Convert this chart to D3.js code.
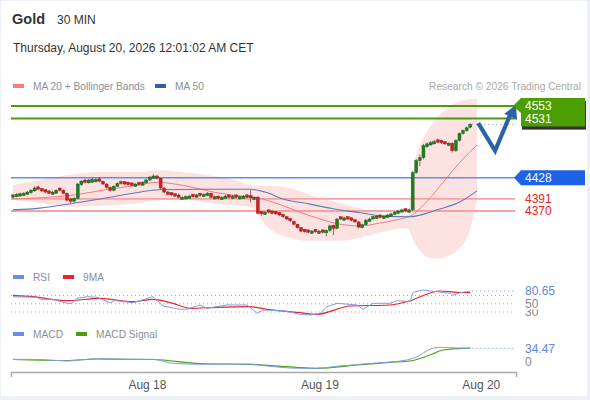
<!DOCTYPE html>
<html><head><meta charset="utf-8">
<script src="https://cdn.jsdelivr.net/npm/d3@7"></script>
<style>
html,body{margin:0;padding:0;background:#edf1f5;}
svg{display:block;font-family:"Liberation Sans",Arial,sans-serif;}
</style></head>
<body>
<svg id="chart" width="590" height="400"></svg>
<script>
// ---------- DATA ----------
const title = "Gold";
const period = "30 MIN";
const dateText = "Thursday, August 20, 2026 12:01:02 AM CET";
const credit = "Research \u00a9 2026 Trading Central";

const opens = [
4394,4395,4396,4397,4399,4402,4405,4412,4409,4407,
4405,4399,4401,4410,4406,4401,4391,4387,4392,4416,
4424,4419,4420,4421,4426,4422,4417,4411,4406,4413,
4421,4421,4420,4419,4413,4420,4415,4419,4424,4427,
4431,4427,4410,4403,4402,4400,4398,4390,4391,4392,
4399,4394,4401,4395,4397,4401,4391,4396,4390,4392,
4398,4392,4398,4391,4392,4398,4397,4390,4394,4369,
4364,4372,4370,4369,4367,4364,4360,4357,4352,4347,
4341,4338,4337,4331,4338,4331,4337,4332,4336,4345,
4340,4360,4354,4360,4358,4355,4351,4341,4346,4352,
4356,4357,4363,4357,4359,4361,4364,4366,4368,4374,
4368,4372,4437,4458,4463,4482,4485,4487,4494,4493,
4491,4484,4488,4475,4493,4505,4510,4516];
const highs = [
4400,4401,4402,4403,4405,4408,4413,4414,4410,4408,
4406,4405,4408,4411,4408,4402,4393,4394,4419,4424,
4426,4426,4428,4427,4428,4423,4418,4413,4415,4420,
4423,4422,4421,4420,4419,4421,4422,4426,4431,4434,
4433,4428,4412,4405,4403,4401,4400,4396,4397,4398,
4400,4400,4402,4401,4403,4402,4397,4397,4396,4398,
4399,4398,4399,4397,4398,4400,4406,4396,4396,4370,
4370,4373,4371,4370,4368,4365,4361,4358,4353,4348,
4342,4339,4338,4337,4339,4337,4338,4338,4346,4346,
4358,4361,4360,4361,4359,4356,4352,4348,4356,4358,
4362,4363,4364,4363,4365,4367,4370,4372,4374,4375,
4374,4440,4461,4468,4487,4490,4492,4494,4496,4494,
4492,4490,4490,4495,4507,4512,4517,4523];
const lows = [
4392,4394,4395,4396,4398,4400,4404,4406,4403,4401,
4399,4398,4400,4404,4399,4386,4383,4385,4390,4414,
4418,4418,4419,4420,4420,4415,4409,4404,4404,4412,
4416,4415,4414,4413,4412,4414,4414,4418,4422,4426,
4425,4408,4401,4397,4396,4394,4392,4389,4390,4391,
4393,4393,4395,4394,4396,4392,4390,4390,4389,4391,
4392,4391,4392,4390,4391,4392,4385,4389,4364,4362,
4363,4366,4364,4363,4361,4358,4354,4351,4345,4339,
4333,4332,4331,4330,4332,4330,4331,4326,4334,4328,
4338,4354,4353,4354,4352,4349,4340,4340,4345,4351,
4355,4356,4357,4356,4358,4360,4363,4365,4367,4368,
4367,4370,4435,4448,4460,4480,4484,4486,4488,4487,
4485,4483,4472,4473,4491,4503,4508,4514];
const closes = [
4398,4399,4400,4401,4403,4406,4410,4408,4405,4403,
4401,4403,4406,4406,4401,4389,4387,4392,4417,4422,
4420,4424,4425,4425,4422,4417,4411,4406,4413,4418,
4418,4417,4416,4415,4417,4416,4420,4424,4429,4431,
4427,4410,4403,4399,4398,4396,4394,4394,4395,4396,
4395,4398,4397,4399,4401,4394,4395,4392,4394,4396,
4394,4396,4394,4395,4396,4394,4393,4394,4366,4365,
4368,4368,4366,4365,4363,4360,4356,4353,4347,4341,
4335,4334,4333,4335,4334,4335,4333,4336,4344,4340,
4356,4356,4358,4356,4354,4351,4342,4346,4354,4356,
4360,4361,4359,4361,4363,4365,4368,4370,4372,4370,
4372,4437,4458,4463,4484,4487,4489,4491,4490,4489,
4487,4488,4475,4493,4505,4510,4515,4521];

// Bollinger band (position index, upper, lower)
const bandIdx   = [0,7.5,15.8,24.2,35.3,40.8,47,54.7,61.7,65.8,67.5,70,76.9,82.5,90.8,99.2,106,109.5,110.5,111.7,113.1,115.3,117.5,120,123.6,126.9,128.9];
const bandUpper = [4415,4424,4433,4438,4438,4441,4438,4432,4424,4415,4414,4414,4410,4398,4384,4370,4363,4364,4400,4460,4485,4511,4530,4546,4560,4565,4566];
const bandLower = [4389,4384,4377,4379,4384,4389,4389,4384,4380,4378,4372,4346,4323,4318,4318,4328,4338,4340,4330,4312,4300,4289,4287,4290,4302,4337,4390];

const ma20Idx = [0,7.5,17.2,25.6,34.7,40,47.8,55.6,63.1,67.8,74.2,79.7,85.3,90.8,96.4,101.9,107.5,110.3,115.3,120,124.7,128.9];
const ma20Val = [4391,4393,4398,4407,4415,4420,4414,4403,4396,4393,4381,4368,4356,4347,4344,4349,4356,4361,4389,4424,4459,4485];
const ma50Idx = [0,7.5,17.2,24.2,32.5,40.8,51.9,65.8,70,75,82.5,88.9,96.4,102.8,110.3,114.4,117.8,124.2,128.9];
const ma50Val = [4372,4375,4384,4391,4400,4407,4408,4408,4403,4391,4382,4374,4367,4361,4360,4365,4372,4386,4405];

const resistances = [4553, 4531];
const pivot = 4428;
const supports = [4391, 4370];
// forecast arrow (position index, price)
const arrowIdx = [129.2, 133.9, 138.3, 139.7];
const arrowVal = [4523, 4475, 4541, 4555];

const rsiIdx = [0,6.7,7.5,11.1,15,16.4,17.8,20.6,23.3,26.9,28.3,33.3,38.9,41.7,46.4,48.3,51.9,53.9,59.4,65,67.8,69.4,75,79.7,82.5,85.3,87.2,90,95.6,97.2,100,104.7,106.7,110.3,111.1,113.9,117.8,121.4,122.2,124.2,127];
const rsiVal = [67.1,65.6,60.8,60.8,51.1,51.1,63.2,67.1,65.6,52.5,57.4,52.5,67.1,44.5,36.5,36.5,47,39,47,47,26.8,34.8,33.2,24.4,22.7,26.8,42.8,51.1,47,36.5,51.1,51.1,57.4,55,77.8,83.3,79.2,75.3,70.5,76.8,80.65];
const rsiMaIdx = [0,5.6,15,24.2,33.3,38.9,44.4,49.2,56.7,65.8,70.6,79.7,84.4,93.6,104.7,109.4,118.6,123.3,127];
const rsiMaVal = [70.5,67.1,57.4,63.2,55,60.8,51.1,39,41.4,42.8,36.5,28.3,24.4,44.5,47,55,80.9,77.8,76.8];
const rsiLevels = [30, 50, 70];
const rsiLabels = [30, 50];

const macdIdx = [0,7.5,15,23.3,32.5,38.9,44.4,51.9,65.8,70.6,79.7,84.4,90.8,100,109.4,112.2,115.8,118.6,123.3,127];
const macdVal = [5.7,5.2,1.3,7.3,5.7,5.7,-4.7,-7.3,-6.5,-11.7,-17.8,-17.8,-11.7,-4.7,3.9,12.5,31.9,37.1,35.2,34.47];
const sigIdx = [0,15,23.3,38.9,51.9,65.8,79.7,84.4,95.6,104.7,110.3,115.8,119.4,125,127];
const sigVal = [5.2,2.6,6.5,5.2,-5.2,-7.8,-15.7,-17.8,-9.1,-2.1,1.3,17,30,34.5,34.7];
const macdLevels = [0];

const xTickIdx = [37.2, 85.1, 129.9];
const xTickLabels = ["Aug 18", "Aug 19", "Aug 20"];

// ---------- DRAW ----------
const svg = d3.select("#chart");
svg.append("rect").attr("x",1).attr("y",1).attr("width",586).attr("height",395).attr("fill","#fff");

const x = d3.scaleLinear().domain([-0.55, 139.7]).range([11, 516]);
const y = d3.scaleLinear().domain([4370, 4553]).range([211, 106]);
const yR = d3.scaleLinear().domain([30, 70]).range([312, 295.5]);
const yM = d3.scaleLinear().domain([0, 34.47]).range([361.5, 348.3]);
const X0 = 11, X1 = 515;

// header
svg.append("text").attr("x",12).attr("y",24).attr("font-size",14.5).attr("font-weight","bold").attr("fill","#333").text(title);
svg.append("text").attr("x",57).attr("y",23.5).attr("font-size",12).attr("fill","#333").text(period);
svg.append("text").attr("x",13).attr("y",52).attr("font-size",12).attr("fill","#333").text(dateText);

// legends
function legend(items, ly){
  items.forEach(it=>{
    svg.append("rect").attr("x",it.x).attr("y",ly-2).attr("width",11).attr("height",4).attr("fill",it.c);
    svg.append("text").attr("x",it.x+20).attr("y",ly+4).attr("font-size",10.2).attr("fill","#8a8f99").text(it.t);
  });
}
legend([{x:13,c:"#ff7b7b",t:"MA 20 + Bollinger Bands"},{x:155,c:"#3a5e9c",t:"MA 50"}], 86);
svg.append("text").attr("x",581).attr("y",90).attr("text-anchor","end").attr("font-size",10.2).attr("fill","#a8a8a8").text(credit);
legend([{x:13,c:"#6a8fe6",t:"RSI"},{x:63,c:"#e8232b",t:"9MA"}], 277);
legend([{x:13,c:"#6a8fe6",t:"MACD"},{x:76,c:"#4d9e0e",t:"MACD Signal"}], 334);

// Bollinger band
const bandData = bandIdx.map((d,i)=>({i:d,u:bandUpper[i],l:bandLower[i]}));
svg.append("path").datum(bandData)
  .attr("d", d3.area().x(d=>x(d.i)).y0(d=>y(d.l)).y1(d=>y(d.u)).curve(d3.curveMonotoneX))
  .attr("fill","#fde2e2");

// level lines
resistances.forEach(v=>{
  svg.append("line").attr("x1",X0).attr("x2",X1+2).attr("y1",y(v)).attr("y2",y(v)).attr("stroke","#4f9a0c").attr("stroke-width",2);
});
supports.forEach(v=>{
  svg.append("line").attr("x1",X0).attr("x2",X1).attr("y1",y(v)).attr("y2",y(v)).attr("stroke","#f7a3a3").attr("stroke-width",1.8);
});
svg.append("line").attr("x1",X0).attr("x2",X1).attr("y1",y(pivot)).attr("y2",y(pivot)).attr("stroke","#5d8ff0").attr("stroke-width",1.5);

// MA lines
const lineXY = (ix, vals, ys, curve)=> d3.line().x(d=>x(d[0])).y(d=>ys(d[1])).curve(curve||d3.curveMonotoneX)(ix.map((d,i)=>[d,vals[i]]));
svg.append("path").attr("d", lineXY(ma20Idx, ma20Val, y)).attr("fill","none").attr("stroke","#f47c7c").attr("stroke-width",1);
svg.append("path").attr("d", lineXY(ma50Idx, ma50Val, y)).attr("fill","none").attr("stroke","#5b7db5").attr("stroke-width",1.1);

// candles
const bw = 3;
const cg = svg.append("g");
closes.forEach((c,i)=>{
  const o = opens[i], up = c >= o;
  const col = up ? "#1f7f1f" : "#cc1f1f";
  cg.append("line").attr("x1",x(i)).attr("x2",x(i)).attr("y1",y(highs[i])).attr("y2",y(lows[i])).attr("stroke","#555").attr("stroke-width",0.8);
  const top = y(Math.max(o,c)), bot = y(Math.min(o,c));
  cg.append("rect").attr("x",x(i)-bw/2).attr("y",top).attr("width",bw).attr("height",Math.max(1,bot-top))
    .attr("fill",col).attr("stroke", up ? "#165e16" : "#9a1515").attr("stroke-width",0.4);
});
// last price dotted
const lastC = closes[closes.length-1];
svg.append("line").attr("x1",x(closes.length-1)+2).attr("x2",X1).attr("y1",y(lastC)).attr("y2",y(lastC))
  .attr("stroke","#888").attr("stroke-width",1).attr("stroke-dasharray","1,3");

// forecast arrow
const ap = arrowIdx.map((d,i)=>[x(d), y(arrowVal[i])]);
const shaft = ap.slice(0,3);
svg.append("path").attr("d", d3.line()(shaft)).attr("fill","none").attr("stroke","#2d62a6").attr("stroke-width",4.2).attr("stroke-linejoin","miter");
(function(){
  const tip = ap[3], from = ap[1];
  const dx = tip[0]-from[0], dy = tip[1]-from[1], L = Math.hypot(dx,dy);
  const ux = dx/L, uy = dy/L, px = -uy, py = ux;
  const bx = tip[0]-ux*13, by = tip[1]-uy*13;
  svg.append("path").attr("d", d3.line()([tip,[bx+px*7,by+py*7],[bx-px*7,by-py*7]])+"Z").attr("fill","#2d62a6");
})();

// price tags
const ty1 = y(resistances[0]), ty2 = y(resistances[1]);
svg.append("rect").attr("x",521).attr("y",ty1-7).attr("width",64).attr("height",ty2-ty1+16).attr("fill","#333").attr("transform","translate(1,2)");
svg.append("path").attr("d", d3.line()([[585,ty1-8],[585,ty2+8],[521,ty2+8],[521,ty1+7],[513,ty1],[521,ty1-8]])+"Z").attr("fill","#4c9d00");
resistances.forEach(v=>{
  svg.append("text").attr("x",525).attr("y",y(v)+4.3).attr("font-size",12).attr("fill","#fff").text(v);
});
const tp = y(pivot);
svg.append("path").attr("d", d3.line()([[585,tp-7.5],[585,tp+7.5],[521,tp+7.5],[514,tp],[521,tp-7.5]])+"Z").attr("fill","#1e62e8");
svg.append("text").attr("x",525).attr("y",tp+4.3).attr("font-size",12).attr("fill","#fff").text(pivot);
supports.forEach(v=>{
  svg.append("text").attr("x",525).attr("y",y(v)+4.3).attr("font-size",12).attr("fill","#e8231f").text(v);
});

// RSI panel
rsiLevels.forEach(v=>{
  svg.append("line").attr("x1",X0).attr("x2",X1).attr("y1",yR(v)).attr("y2",yR(v)).attr("stroke","#aaa").attr("stroke-width",1).attr("stroke-dasharray","1,3");
});
svg.append("path").attr("d", lineXY(rsiMaIdx, rsiMaVal, yR)).attr("fill","none").attr("stroke","#e8232b").attr("stroke-width",1.2);
svg.append("path").attr("d", lineXY(rsiIdx, rsiVal, yR, d3.curveLinear)).attr("fill","none").attr("stroke","#7c9ee9").attr("stroke-width",1);
const lastR = rsiVal[rsiVal.length-1];
svg.append("line").attr("x1",x(rsiIdx[rsiIdx.length-1])+2).attr("x2",X1).attr("y1",yR(lastR)).attr("y2",yR(lastR))
  .attr("stroke","#6a8fe6").attr("stroke-width",1).attr("stroke-dasharray","1,3");
function valLabel(v, ys, txt, col){
  svg.append("rect").attr("x",522).attr("y",ys(v)-5).attr("width",40).attr("height",10.5).attr("fill","#fff");
  svg.append("text").attr("x",525).attr("y",ys(v)+4.3).attr("font-size",12).attr("fill",col).text(txt);
}
rsiLabels.forEach(v=>valLabel(v, yR, v, "#888"));
valLabel(lastR, yR, lastR.toFixed(2), "#5b86e5");

// MACD panel
svg.append("path").attr("d", lineXY(sigIdx, sigVal, yM)).attr("fill","none").attr("stroke","#4d9e0e").attr("stroke-width",1.2);
svg.append("path").attr("d", lineXY(macdIdx, macdVal, yM)).attr("fill","none").attr("stroke","#7c9ee9").attr("stroke-width",1);
const lastM = macdVal[macdVal.length-1];
svg.append("line").attr("x1",x(macdIdx[macdIdx.length-1])+2).attr("x2",X1).attr("y1",yM(lastM)).attr("y2",yM(lastM))
  .attr("stroke","#6a8fe6").attr("stroke-width",1).attr("stroke-dasharray","1,3");
macdLevels.forEach(v=>valLabel(v, yM, v, "#888"));
valLabel(lastM, yM, lastM.toFixed(2), "#5b86e5");

// x axis
const axis = d3.axisBottom(x).tickValues(xTickIdx).tickFormat((d,i)=>xTickLabels[i]).tickSizeInner(0).tickSizeOuter(5).tickPadding(8);
const ax = svg.append("g").attr("transform","translate(0,372)").call(axis);
ax.select(".domain").attr("stroke","#aaa").attr("stroke-width",1.5);
ax.selectAll("text").attr("font-size",12).attr("fill","#555").attr("font-family","Liberation Sans, Arial, sans-serif");
</script>
</body></html>
